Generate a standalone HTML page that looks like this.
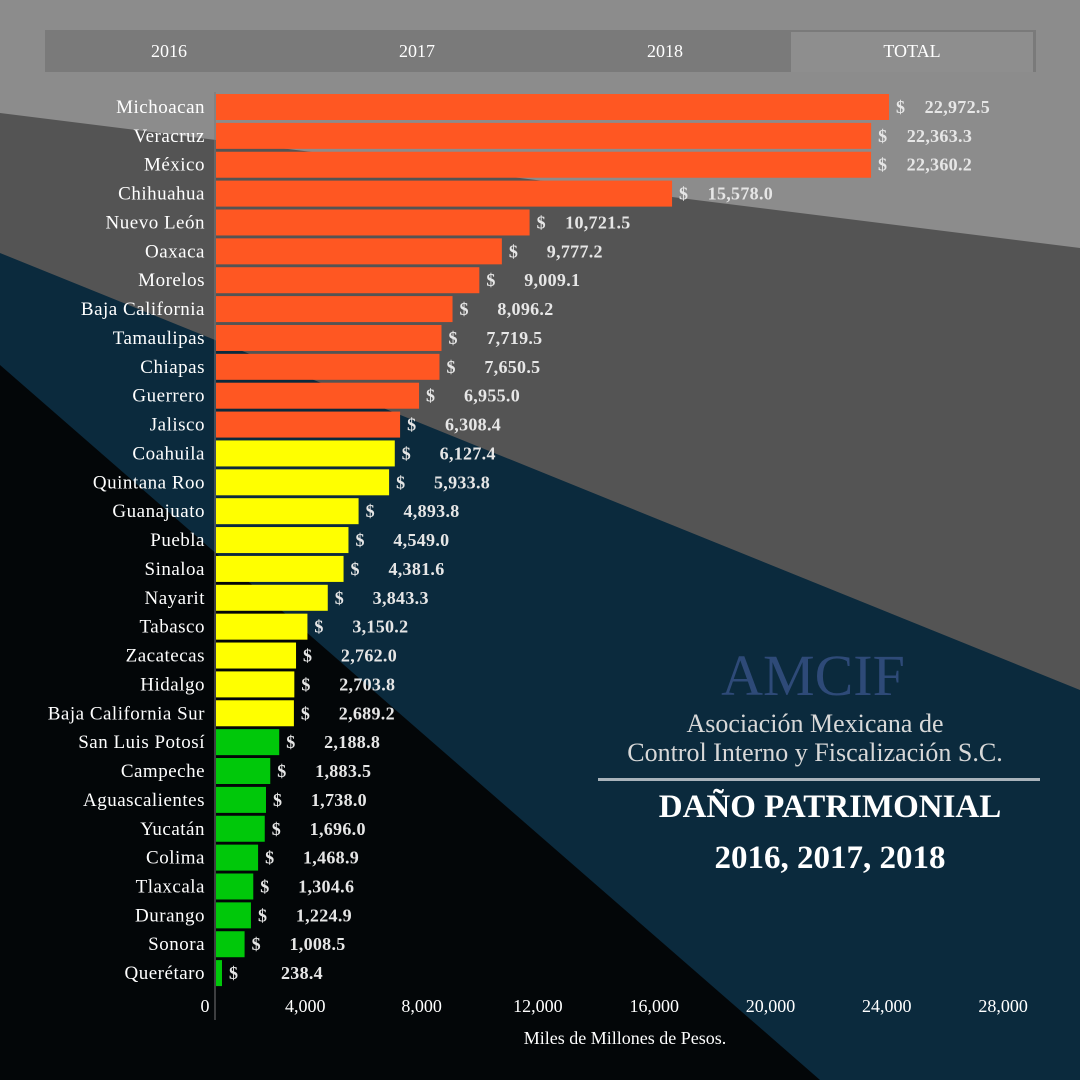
<!DOCTYPE html>
<html><head><meta charset="utf-8"><style>
body{margin:0;width:1080px;height:1080px;overflow:hidden;font-family:"Liberation Serif",serif;}
svg text{font-family:"Liberation Serif",serif;}
</style></head><body>
<svg width="1080" height="1080" xmlns="http://www.w3.org/2000/svg">
<rect x="0" y="0" width="1080" height="1080" fill="#8c8c8c"/>
<polygon points="0,113 1080,248 1080,1080 0,1080" fill="#545454"/>
<polygon points="0,253 1080,690 1080,1080 0,1080" fill="#0b2a3d"/>
<polygon points="0,365 820,1080 0,1080" fill="#030608"/>
<g>
<rect x="45" y="30" width="991" height="42" fill="#7a7a7a"/>
<rect x="791" y="32" width="242" height="40" fill="#8e8e8e"/>
<text x="169" y="57" fill="#fff" font-size="18" text-anchor="middle">2016</text>
<text x="417" y="57" fill="#fff" font-size="18" text-anchor="middle">2017</text>
<text x="665" y="57" fill="#fff" font-size="18" text-anchor="middle">2018</text>
<text x="912" y="57" fill="#fff" font-size="18" text-anchor="middle">TOTAL</text>
</g>
<line x1="215" y1="92" x2="215" y2="1020" stroke="#777" stroke-width="1"/>
<g id="bars"></g>
<g id="xticks"></g>
<text x="625" y="1044" fill="#fff" font-size="18" text-anchor="middle">Miles de Millones de Pesos.</text>
<g>
<text x="813" y="695" fill="#2e4a78" font-size="58" text-anchor="middle">AMCIF</text>
<text x="815" y="732" fill="#d8d8d8" font-size="26" text-anchor="middle">Asociación Mexicana de</text>
<text x="815" y="761" fill="#d8d8d8" font-size="26" text-anchor="middle">Control Interno y Fiscalización S.C.</text>
<rect x="598" y="778" width="442" height="3" fill="#a9b3bb"/>
</g>
<text x="830" y="817" fill="#fff" font-size="33" font-weight="bold" text-anchor="middle">DAÑO PATRIMONIAL</text>
<text x="830" y="868" fill="#fff" font-size="33" font-weight="bold" text-anchor="middle">2016, 2017, 2018</text>
</svg>
<script>
const states=["Michoacan","Veracruz","México","Chihuahua","Nuevo León","Oaxaca","Morelos","Baja California","Tamaulipas","Chiapas","Guerrero","Jalisco","Coahuila","Quintana Roo","Guanajuato","Puebla","Sinaloa","Nayarit","Tabasco","Zacatecas","Hidalgo","Baja California Sur","San Luis Potosí","Campeche","Aguascalientes","Yucatán","Colima","Tlaxcala","Durango","Sonora","Querétaro"];
const values=[22972.5,22363.3,22360.2,15578.0,10721.5,9777.2,9009.1,8096.2,7719.5,7650.5,6955.0,6308.4,6127.4,5933.8,4893.8,4549.0,4381.6,3843.3,3150.2,2762.0,2703.8,2689.2,2188.8,1883.5,1738.0,1696.0,1468.9,1304.6,1224.9,1008.5,238.4];
const valueLabels=["22,972.5","22,363.3","22,360.2","15,578.0","10,721.5","9,777.2","9,009.1","8,096.2","7,719.5","7,650.5","6,955.0","6,308.4","6,127.4","5,933.8","4,893.8","4,549.0","4,381.6","3,843.3","3,150.2","2,762.0","2,703.8","2,689.2","2,188.8","1,883.5","1,738.0","1,696.0","1,468.9","1,304.6","1,224.9","1,008.5","238.4"];
const ticks=[0,4000,8000,12000,16000,20000,24000,28000];
const tickLabels=["0","4,000","8,000","12,000","16,000","20,000","24,000","28,000"];
const NS="http://www.w3.org/2000/svg";
function x(v){return 215+v*0.02934;}
function y(i){return 107+i*28.87;}
function tickX(v){return v===0?205:189+v*0.029075;}
function color(i){return i<12?"#ff5722":(i<22?"#ffff00":"#00c80a");}
const g=document.getElementById("bars");
states.forEach((s,i)=>{
  const cy=y(i);
  const t=document.createElementNS(NS,"text");
  
  
  t.setAttribute("x",205);t.setAttribute("y",cy+6);t.setAttribute("fill","#fff");t.setAttribute("font-size","19");t.setAttribute("letter-spacing","0.5");t.setAttribute("text-anchor","end");
  t.textContent=s;g.appendChild(t);
  const r=document.createElementNS(NS,"rect");
  
  
  r.setAttribute("x",216);r.setAttribute("y",cy-13);r.setAttribute("width",x(values[i])-216);r.setAttribute("height",26);r.setAttribute("fill",color(i));
  g.appendChild(r);
  const d=document.createElementNS(NS,"text");
  
  
  d.setAttribute("x",x(values[i])+7);d.setAttribute("y",cy+6);d.setAttribute("fill","#e6e6e6");d.setAttribute("font-size","18");d.setAttribute("font-weight","bold");
  d.textContent="$";g.appendChild(d);
  const v=document.createElementNS(NS,"text");
  
  
  v.setAttribute("x",x(values[i])+101);v.setAttribute("y",cy+6);v.setAttribute("fill","#e6e6e6");v.setAttribute("font-size","18");v.setAttribute("font-weight","bold");v.setAttribute("letter-spacing","0.3");v.setAttribute("text-anchor","end");
  v.textContent=valueLabels[i];g.appendChild(v);
});
const xt=document.getElementById("xticks");
ticks.forEach((tv,i)=>{
  const t=document.createElementNS(NS,"text");
  
  
  t.setAttribute("x",tickX(tv));t.setAttribute("y",1012);t.setAttribute("fill","#fff");t.setAttribute("font-size","18");t.setAttribute("text-anchor","middle");
  t.textContent=tickLabels[i];xt.appendChild(t);
});
</script>
</body></html>
